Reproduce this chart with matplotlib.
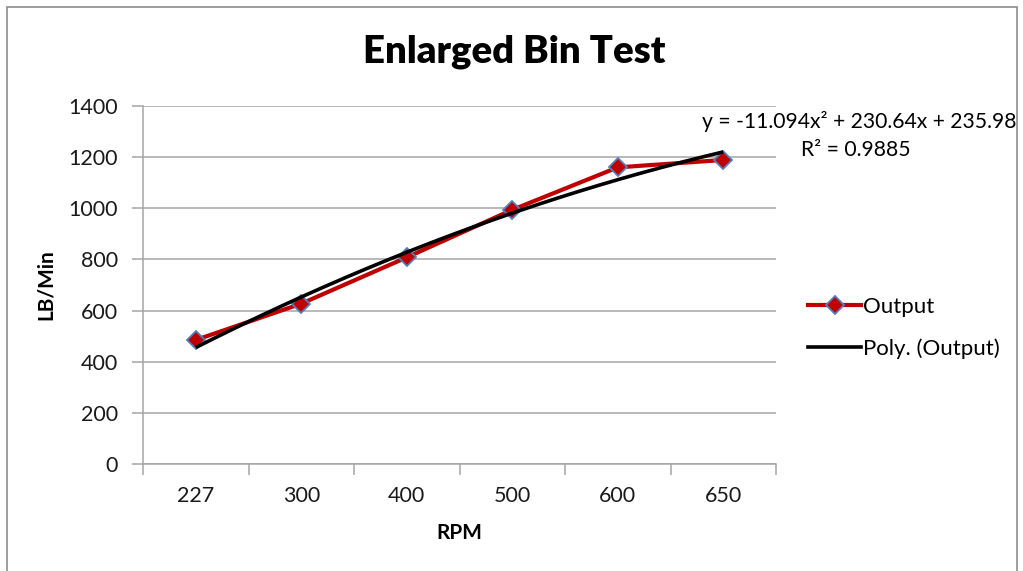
import numpy as np
import matplotlib
matplotlib.use("Agg")
import matplotlib.pyplot as plt
from matplotlib.patches import Rectangle
from matplotlib.lines import Line2D

plt.rcParams['font.family'] = ['Lato', 'DejaVu Sans']

# ---- data ----
categories = ["227", "300", "400", "500", "600", "650"]
output_values = [485, 627, 808, 994, 1160, 1189]
# trendline coefficients as printed on the chart (x = category index 1..6)
poly_coeffs = [-11.094, 230.64, 235.98]
r_squared = 0.9885
yticks = [0, 200, 400, 600, 800, 1000, 1200, 1400]

W, H = 1023, 571
fig = plt.figure(figsize=(W / 100, H / 100), dpi=100)
fig.patch.set_facecolor("white")

# outer chart border
fig.patches.append(Rectangle((7 / W, -0.05), (1017 - 7) / W, 1.05 - 7 / H,
                             transform=fig.transFigure, fill=False,
                             edgecolor="#8C8C8C", linewidth=1.2))

ax = fig.add_axes([143 / W, 1 - 464 / H, (776 - 143) / W, (464 - 106) / H])
x = np.arange(1, len(categories) + 1)

grid_color = "#A6A6A6"
for v in yticks:
    ax.axhline(v, color=grid_color, linewidth=1.1, zorder=0)

# trendline
xs = np.linspace(x[0], x[-1], 200)
ax.plot(xs, np.polyval(poly_coeffs, xs), color="black", linewidth=2.6,
        zorder=3, solid_capstyle="butt")

# data series
ax.plot(x, output_values, color="#C00000", linewidth=3, zorder=2,
        marker="D", markersize=9, markerfacecolor="#C00000",
        markeredgecolor="#4F81BD", markeredgewidth=1.3)

ax.set_xlim(0.5, len(categories) + 0.5)
ax.set_ylim(0, 1400)
ax.set_yticks(yticks)
ax.set_yticklabels([str(v) for v in yticks], fontsize=15.5, color="#1A1A1A")
ax.set_xticks(x)
ax.set_xticklabels(categories, fontsize=15.5, color="#1A1A1A")
ax.tick_params(axis="x", length=0, pad=16)
ax.set_xticks(np.arange(0.5, len(categories) + 1, 1.0), minor=True)
ax.tick_params(axis="x", which="minor", length=8, color=grid_color, width=1.1)
ax.tick_params(axis="y", length=8, color=grid_color, width=1.1, pad=10)

for s in ["top", "right"]:
    ax.spines[s].set_visible(False)
for s in ["left", "bottom"]:
    ax.spines[s].set_color(grid_color)
    ax.spines[s].set_linewidth(1.1)

ax.set_xlabel("RPM", fontsize=15, fontweight="bold", labelpad=12)
ax.set_ylabel("LB/Min", fontsize=15, fontweight="bold", labelpad=9)

fig.text(514 / W, 1 - 52 / H, "Enlarged Bin Test", ha="center", va="center",
         fontsize=27.5, fontweight="heavy")

fig.text(859 / W, 1 - 122 / H,
         "y = %gx\u00b2 + %gx + %g" % (poly_coeffs[0], poly_coeffs[1], poly_coeffs[2]),
         ha="center", va="center", fontsize=15.2)
fig.text(856 / W, 1 - 150 / H, "R\u00b2 = %g" % r_squared,
         ha="center", va="center", fontsize=15.2)

# legend (manual placement to match)
handles = [
    Line2D([], [], color="#C00000", linewidth=3, marker="D", markersize=9,
           markerfacecolor="#C00000", markeredgecolor="#4F81BD", markeredgewidth=1.3),
    Line2D([], [], color="black", linewidth=2.6),
]
leg = fig.legend(handles, ["Output", "Poly. (Output)"], loc="upper left",
                 bbox_to_anchor=(799 / W, 1 - 288 / H), frameon=False,
                 fontsize=16, handlelength=2.4, handletextpad=0.1,
                 labelspacing=0.95, borderaxespad=0)

fig.savefig("out.png", dpi=100, facecolor="white")
